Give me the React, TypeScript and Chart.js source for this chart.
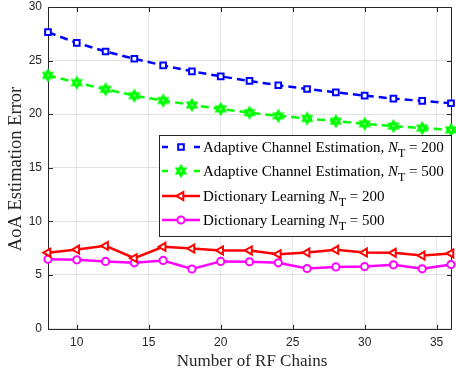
import React, { useEffect, useRef } from "react";
import { Chart, registerables } from "chart.js";

Chart.register(...registerables);

// Number of RF chains on the horizontal axis
const rfChains = [8, 10, 12, 14, 16, 18, 20, 22, 24, 26, 28, 30, 32, 34, 36];

// AoA estimation error for each method
const adaptive200 = [27.65, 26.65, 25.85, 25.17, 24.55, 24.0, 23.53, 23.1, 22.7, 22.35, 22.04, 21.73, 21.45, 21.24, 21.02];
const adaptive500 = [23.62, 22.94, 22.32, 21.73, 21.27, 20.86, 20.49, 20.14, 19.84, 19.6, 19.35, 19.1, 18.89, 18.7, 18.54];
const dictionary200 = [7.07, 7.37, 7.71, 6.57, 7.62, 7.46, 7.28, 7.28, 6.94, 7.09, 7.34, 7.09, 7.06, 6.81, 7.0];
const dictionary500 = [6.47, 6.41, 6.26, 6.13, 6.35, 5.55, 6.26, 6.23, 6.13, 5.6, 5.75, 5.78, 5.94, 5.57, 5.97];

// Axis ticks
const xTicks = [10, 15, 20, 25, 30, 35];
const yTicks = [0, 5, 10, 15, 20, 25, 30];

// Legend text
const seriesNames = [
  "Adaptive Channel Estimation, ",
  "Adaptive Channel Estimation, ",
  "Dictionary Learning ",
  "Dictionary Learning ",
];
const antennaCounts = ["200", "500", "200", "500"];

const xTitle = "Number of RF Chains";
const yTitle = "AoA Estimation Error";

const BLUE = "#0000ff";
const GREEN = "#00ff00";
const RED = "#ff0000";
const MAGENTA = "#ff00ff";
const AXIS = "#262626";
const SERIF = '"Liberation Serif", "Times New Roman", serif';
const SANS = '"Liberation Sans", Arial, sans-serif';

function makeHexagram(color: string): HTMLCanvasElement {
  const c = document.createElement("canvas");
  c.width = 16;
  c.height = 16;
  const g = c.getContext("2d")!;
  const R = 5.6;
  const r = R / Math.sqrt(3);
  g.beginPath();
  for (let i = 0; i < 12; i++) {
    const ang = -Math.PI / 2 + (i * Math.PI) / 6;
    const rad = i % 2 === 0 ? R : r;
    const px = 8 + rad * Math.cos(ang);
    const py = 8 + rad * Math.sin(ang);
    if (i === 0) g.moveTo(px, py);
    else g.lineTo(px, py);
  }
  g.closePath();
  g.fillStyle = color;
  g.fill();
  g.lineWidth = 1.6;
  g.strokeStyle = color;
  g.lineJoin = "miter";
  g.stroke();
  g.beginPath();
  g.arc(8, 8, 1.1, 0, Math.PI * 2);
  g.fillStyle = "rgba(255,255,255,0.6)";
  g.fill();
  return c;
}

export default function App() {
  const ref = useRef<HTMLCanvasElement>(null);

  useEffect(() => {
    document.body.style.margin = "0";
    const hexagram = makeHexagram(GREEN);

    const markerDefs = [
      { color: BLUE, style: "rect" as any, radius: 4, rotation: 0, dashed: true },
      { color: GREEN, style: hexagram as any, radius: 5, rotation: 0, dashed: true },
      { color: RED, style: "triangle" as any, radius: 4.6, rotation: -90, dashed: false },
      { color: MAGENTA, style: "circle" as any, radius: 3.6, rotation: 0, dashed: false },
    ];

    function drawMarker(ctx: CanvasRenderingContext2D, m: any, x: number, y: number) {
      ctx.save();
      if (typeof m.style !== "string") {
        ctx.drawImage(m.style, x - m.style.width / 2, y - m.style.height / 2);
        ctx.restore();
        return;
      }
      ctx.fillStyle = "#ffffff";
      ctx.strokeStyle = m.color;
      ctx.lineWidth = 2;
      ctx.beginPath();
      if (m.style === "rect") {
        const s = m.radius * Math.SQRT1_2;
        ctx.rect(x - s, y - s, 2 * s, 2 * s);
      } else if (m.style === "circle") {
        ctx.arc(x, y, m.radius, 0, Math.PI * 2);
      } else if (m.style === "triangle") {
        const r = m.radius;
        let rad = (m.rotation * Math.PI) / 180;
        for (let k = 0; k < 3; k++) {
          const px = x + Math.sin(rad) * r;
          const py = y - Math.cos(rad) * r;
          if (k === 0) ctx.moveTo(px, py);
          else ctx.lineTo(px, py);
          rad += (2 * Math.PI) / 3;
        }
        ctx.closePath();
      }
      ctx.fill();
      ctx.stroke();
      ctx.restore();
    }

    const framePlugin = {
      id: "frameAndLegend",
      beforeDatasetsDraw(chart: any) {
        const { ctx, chartArea: a, scales } = chart;
        const L = Math.round(a.left) + 0.5;
        const R = Math.round(a.right) + 0.5;
        const T = Math.round(a.top) + 0.5;
        const B = Math.round(a.bottom) + 0.5;
        ctx.save();
        ctx.strokeStyle = AXIS;
        ctx.lineWidth = 1;
        ctx.beginPath();
        ctx.rect(L, T, R - L, B - T);
        ctx.stroke();
        const tl = 4.5;
        ctx.beginPath();
        xTicks.forEach((v) => {
          const x = Math.round(scales.x.getPixelForValue(v)) + 0.5;
          ctx.moveTo(x, B);
          ctx.lineTo(x, B - tl);
          ctx.moveTo(x, T);
          ctx.lineTo(x, T + tl);
        });
        yTicks.forEach((v) => {
          const y = Math.round(scales.y.getPixelForValue(v)) + 0.5;
          ctx.moveTo(L, y);
          ctx.lineTo(L + tl, y);
          ctx.moveTo(R, y);
          ctx.lineTo(R - tl, y);
        });
        ctx.stroke();
        ctx.restore();
      },
      afterDraw(chart: any) {
        const { ctx } = chart;
        ctx.save();
        // axis titles
        ctx.fillStyle = AXIS;
        ctx.textAlign = "center";
        ctx.textBaseline = "middle";
        ctx.font = `17px ${SERIF}`;
        ctx.fillText(xTitle, 252, 362);
        ctx.save();
        ctx.translate(16, 169);
        ctx.rotate(-Math.PI / 2);
        ctx.font = `18.5px ${SERIF}`;
        ctx.fillText(yTitle, 0, 0);
        ctx.restore();

        // legend box
        const bx = 159.5, by = 135.5, bw = 292, bh = 101;
        ctx.fillStyle = "#ffffff";
        ctx.fillRect(bx, by, bw, bh);
        ctx.strokeStyle = AXIS;
        ctx.lineWidth = 1;
        ctx.strokeRect(bx, by, bw, bh);

        const rowY = [147, 171, 196, 220];
        const x0 = 162, x1 = 200, xm = 181;
        markerDefs.forEach((m, i) => {
          const y = rowY[i];
          ctx.strokeStyle = m.color;
          ctx.lineWidth = 2.5;
          ctx.beginPath();
          if (m.dashed) {
            ctx.moveTo(x0, y);
            ctx.lineTo(x0 + 6, y);
            ctx.moveTo(x1 - 6, y);
            ctx.lineTo(x1, y);
          } else {
            ctx.moveTo(x0, y);
            ctx.lineTo(x1, y);
          }
          ctx.stroke();
          drawMarker(ctx, m, xm, y);

          // label text with italic N and subscript T
          ctx.fillStyle = "#000000";
          ctx.textAlign = "left";
          ctx.textBaseline = "alphabetic";
          let tx = 203;
          const base = y + 5;
          ctx.font = `15px ${SERIF}`;
          ctx.fillText(seriesNames[i], tx, base);
          tx += ctx.measureText(seriesNames[i]).width;
          ctx.font = `italic 15px ${SERIF}`;
          ctx.fillText("N", tx, base);
          tx += ctx.measureText("N").width;
          ctx.font = `12px ${SERIF}`;
          ctx.fillText("T", tx, base + 5);
          tx += ctx.measureText("T").width;
          ctx.font = `15px ${SERIF}`;
          ctx.fillText(" = " + antennaCounts[i], tx, base);
        });
        ctx.restore();
      },
    };

    const series = [adaptive200, adaptive500, dictionary200, dictionary500];
    const datasets = series.map((vals, i) => {
      const m = markerDefs[i];
      return {
        data: rfChains.map((x, k) => ({ x, y: vals[k] })),
        borderColor: m.color,
        backgroundColor: m.color,
        borderWidth: 2.5,
        borderDash: m.dashed ? [8, 5] : [],
        pointStyle: m.style,
        pointRadius: m.radius,
        pointRotation: m.rotation,
        pointBorderWidth: 2,
        pointBorderColor: m.color,
        pointBackgroundColor: "#ffffff",
        tension: 0,
        clip: false as any,
        order: i,
      };
    });

    const chart = new Chart(ref.current!, {
      type: "line",
      data: { datasets },
      options: {
        animation: false,
        responsive: false,
        events: [],
        layout: { padding: { top: 5.5, right: 1.7, left: 0, bottom: 0 } },
        plugins: { legend: { display: false }, tooltip: { enabled: false } },
        scales: {
          x: {
            type: "linear",
            min: 8,
            max: 36,
            afterBuildTicks: (s: any) => {
              s.ticks = xTicks.map((v) => ({ value: v }));
            },
            afterFit: (s: any) => {
              s.height = 48.5;
              s.paddingLeft = 0;
              s.paddingRight = 0;
            },
            grid: { color: "#e3e3e3", lineWidth: 1, drawTicks: false },
            border: { display: false },
            ticks: {
              color: AXIS,
              font: { family: SANS, size: 12 },
              padding: 7,
              maxRotation: 0,
              autoSkip: false,
            },
          },
          y: {
            type: "linear",
            min: 0,
            max: 30,
            afterBuildTicks: (s: any) => {
              s.ticks = yTicks.map((v) => ({ value: v }));
            },
            afterFit: (s: any) => {
              s.width = 48;
              s.paddingTop = 0;
              s.paddingBottom = 0;
            },
            grid: { color: "#e3e3e3", lineWidth: 1, drawTicks: false },
            border: { display: false },
            ticks: {
              color: AXIS,
              font: { family: SANS, size: 12 },
              padding: 6,
              autoSkip: false,
            },
          },
        },
      },
      plugins: [framePlugin],
    });
    return () => chart.destroy();
  }, []);

  return (
    <div style={{ width: 456, height: 377, overflow: "hidden", position: "relative", background: "#ffffff" }}>
      <canvas ref={ref} width={458} height={377} style={{ display: "block", width: 458, height: 377 }} />
    </div>
  );
}
